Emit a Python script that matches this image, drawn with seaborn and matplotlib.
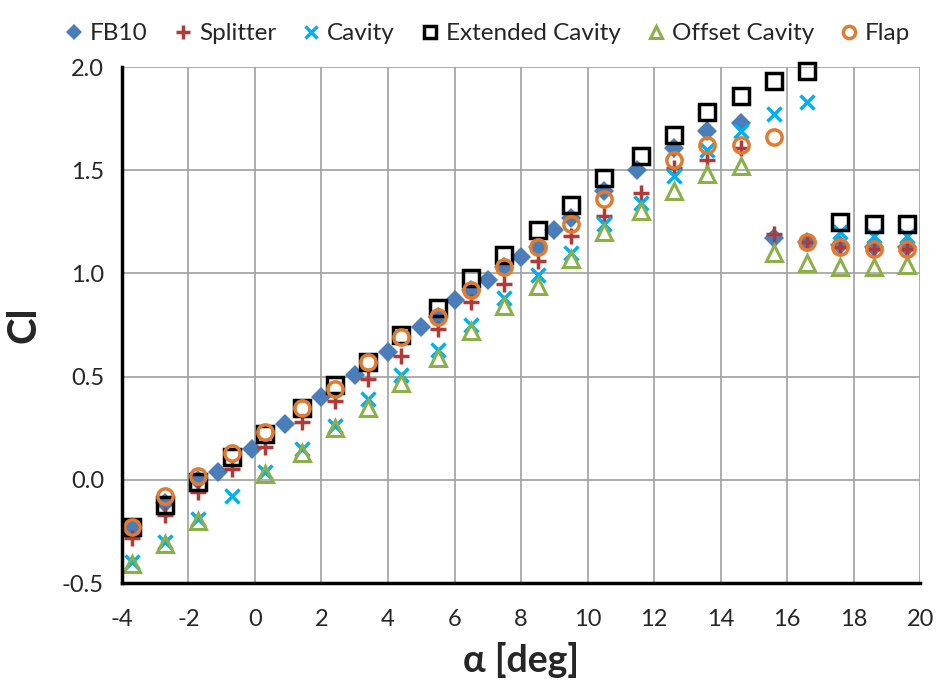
import numpy as np
import pandas as pd
import matplotlib
matplotlib.use("Agg")
import matplotlib.pyplot as plt
import seaborn as sns

# angle of attack grids
alpha_fb10 = [-3.7, -2.7, -1.7, -1.1, -0.1, 0.9, 2.0, 3.0, 4.0, 5.0, 5.5, 6.0, 6.5, 7.0, 7.5,
              8.0, 8.5, 9.0, 9.5, 10.5, 11.5, 12.6, 13.6, 14.6, 15.6, 16.6, 17.6, 18.6, 19.6]
cl_fb10 = [-0.23, -0.11, 0.0, 0.04, 0.15, 0.27, 0.40, 0.51, 0.62, 0.74, 0.79, 0.87, 0.92, 0.97, 1.03,
           1.08, 1.13, 1.21, 1.27, 1.40, 1.50, 1.61, 1.69, 1.73, 1.17, 1.15, 1.14, 1.13, 1.13]

alpha = [-3.7, -2.7, -1.7, -0.7, 0.3, 1.4, 2.4, 3.4, 4.4, 5.5, 6.5, 7.5, 8.5, 9.5, 10.5,
         11.6, 12.6, 13.6, 14.6, 15.6, 16.6, 17.6, 18.6, 19.6]
cl_splitter = [-0.28, -0.17, -0.06, 0.05, 0.16, 0.28, 0.38, 0.49, 0.60, 0.73, 0.86, 0.95, 1.06, 1.18, 1.28,
               1.39, 1.51, 1.55, 1.61, 1.19, 1.15, 1.13, 1.12, 1.12]
cl_cavity = [-0.40, -0.30, -0.19, -0.08, 0.04, 0.15, 0.26, 0.39, 0.51, 0.63, 0.75, 0.88, 0.99, 1.10, 1.24,
             1.34, 1.47, 1.60, 1.69, 1.77, 1.83, 1.20, 1.18, 1.18]
cl_extended = [-0.23, -0.12, -0.01, 0.11, 0.22, 0.35, 0.46, 0.57, 0.70, 0.83, 0.98, 1.09, 1.21, 1.33, 1.46,
               1.57, 1.67, 1.78, 1.86, 1.93, 1.98, 1.25, 1.24, 1.24]
alpha_offset = [a for a in alpha if a != -0.7]
cl_offset = [-0.41, -0.31, -0.20, 0.03, 0.13, 0.25, 0.35, 0.47, 0.59, 0.72, 0.84, 0.94, 1.07, 1.20,
             1.30, 1.40, 1.48, 1.52, 1.10, 1.05, 1.03, 1.03, 1.04]
alpha_flap = [a for a in alpha if a != 11.6]
cl_flap = [-0.23, -0.08, 0.02, 0.13, 0.23, 0.35, 0.44, 0.57, 0.69, 0.79, 0.92, 1.03, 1.13, 1.24, 1.36,
           1.55, 1.62, 1.62, 1.66, 1.15, 1.13, 1.12, 1.12]

series = [
    ("FB10", alpha_fb10, cl_fb10, "D", "#4A7EBB", dict(markersize=10, markeredgewidth=0)),
    ("Splitter", alpha, cl_splitter, "+", "#B03A3A", dict(markersize=12, markeredgewidth=2.5)),
    ("Cavity", alpha, cl_cavity, "x", "#00B0F0", dict(markersize=10, markeredgewidth=2.5)),
    ("Extended Cavity", alpha, cl_extended, "s", "black",
     dict(markersize=11, markeredgewidth=2.5, markerfacecolor="none")),
    ("Offset Cavity", alpha_offset, cl_offset, "^", "#8CB048",
     dict(markersize=11, markeredgewidth=2.2, markerfacecolor="none")),
    ("Flap", alpha_flap, cl_flap, "o", "#E07B30",
     dict(markersize=11, markeredgewidth=2.5, markerfacecolor="none")),
]

sns.set_style("white")
plt.rcParams['font.family'] = ['Lato', 'DejaVu Sans']
plt.rcParams['axes.unicode_minus'] = False

fig = plt.figure(figsize=(9.38, 6.88), dpi=100)
ax = fig.add_axes([0.130, 0.1526, 0.851, 0.75])

for name, x, y, m, c, kw in series:
    sns.lineplot(x=x, y=y, ax=ax, marker=m, linestyle="", color=c, label=name,
                 errorbar=None, sort=False, markeredgecolor=c, clip_on=False, **kw)

ax.set_xlim(-4, 20)
ax.set_ylim(-0.5, 2.0)
ax.set_xticks(np.arange(-4, 21, 2))
ax.set_yticks(np.arange(-0.5, 2.01, 0.5))
ax.set_yticklabels(["%.1f" % v for v in np.arange(-0.5, 2.01, 0.5)])
ax.grid(True, color="#A0A0A0", linewidth=1.2)
ax.set_axisbelow(True)
for s in ["top", "right"]:
    ax.spines[s].set_visible(False)
for s in ["left", "bottom"]:
    ax.spines[s].set_color("black")
    ax.spines[s].set_linewidth(2.5)
ax.tick_params(axis="both", direction="out", length=7, width=2, labelsize=17, color="black", pad=6)
ax.tick_params(axis="x", pad=12)

ax.set_xlabel("α [deg]", fontsize=27, fontweight="bold", labelpad=8)
ax.set_ylabel("Cl", fontsize=29, fontweight="bold", labelpad=14)

ax.legend(loc="lower center", bbox_to_anchor=(0.455, 1.025), ncol=6, frameon=False,
          fontsize=17.5, handletextpad=0.05, columnspacing=0.85, markerscale=0.8,
          handlelength=1.2, borderaxespad=0)

fig.savefig("out.png", dpi=100)
